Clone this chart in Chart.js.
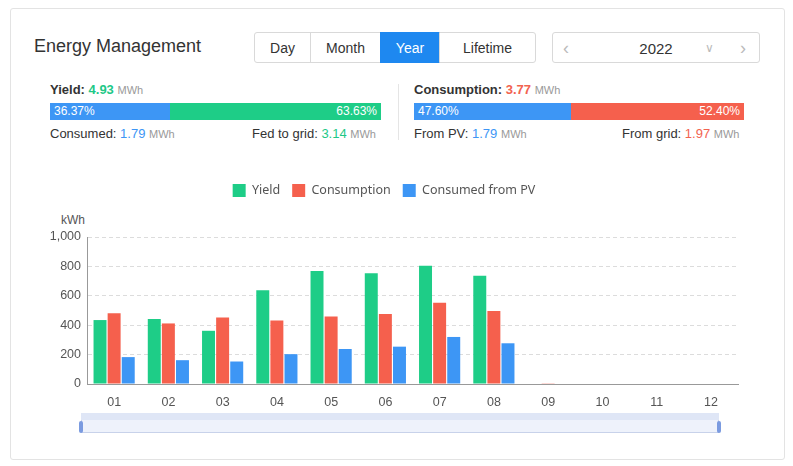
<!DOCTYPE html>
<html><head><meta charset="utf-8">
<script src="https://cdn.jsdelivr.net/npm/chart.js@4/dist/chart.umd.min.js"></script>
<style>
body{margin:0;background:#fff;font-family:"Liberation Sans","Noto Sans",Arial,sans-serif;color:#333;}
.card{position:absolute;left:10px;top:8px;width:773px;height:450px;border:1px solid #e3e3e3;border-radius:3px;}
.abs{position:absolute;white-space:nowrap;}
.title{left:34px;top:36px;font-size:18px;color:#333;}
.seg{position:absolute;top:32px;height:31px;border:1px solid #d9d9d9;font-size:14px;line-height:31px;text-align:center;color:#333;box-sizing:border-box;}
.bar{position:absolute;height:17px;font-size:12px;line-height:17px;color:#fff;}
.lbl{font-size:13px;color:#333;}
.u{font-size:11px;color:#999;}
</style></head><body>
<div class="card"></div>
<div class="abs title">Energy Management</div>
<div class="seg" style="left:254px;width:57px;border-radius:3px 0 0 3px">Day</div>
<div class="seg" style="left:310px;width:71px">Month</div>
<div class="seg" style="left:380px;width:60px;background:#1e88f0;color:#fff;border-color:#1e88f0">Year</div>
<div class="seg" style="left:439px;width:97px;border-radius:0 3px 3px 0">Lifetime</div>
<div class="seg" style="left:552px;width:208px;border-radius:3px;font-size:15px">2022
<span class="abs" style="left:10px;top:0;color:#bbb;font-size:18px">&#8249;</span><span class="abs" style="left:152px;top:0;color:#bbb;font-size:12px">&#8744;</span><span class="abs" style="left:187px;top:0;color:#bbb;font-size:18px">&#8250;</span></div>

<div class="abs lbl" style="left:50px;top:82px"><b>Yield:</b> <b style="color:#1ec887">4.93</b> <span class="u">MWh</span></div>
<div class="bar" style="left:50px;top:103px;width:120px;background:#3d96f5;padding-left:4px;box-sizing:border-box">36.37%</div>
<div class="bar" style="left:170px;top:103px;width:211px;background:#1ecd87;text-align:right;padding-right:4px;box-sizing:border-box">63.63%</div>
<div class="abs lbl" style="left:50px;top:126px">Consumed: <span style="color:#3d96f5">1.79</span> <span class="u">MWh</span></div>
<div class="abs lbl" style="left:252px;top:126px">Fed to grid: <span style="color:#1ec887">3.14</span> <span class="u">MWh</span></div>
<div class="abs" style="left:398px;top:84px;width:1px;height:56px;background:#e5e5e5"></div>
<div class="abs lbl" style="left:414px;top:82px"><b>Consumption:</b> <b style="color:#f26350">3.77</b> <span class="u">MWh</span></div>
<div class="bar" style="left:414px;top:103px;width:157px;background:#3d96f5;padding-left:4px;box-sizing:border-box">47.60%</div>
<div class="bar" style="left:571px;top:103px;width:173px;background:#f5604d;text-align:right;padding-right:4px;box-sizing:border-box">52.40%</div>
<div class="abs lbl" style="left:414px;top:126px">From PV: <span style="color:#3d96f5">1.79</span> <span class="u">MWh</span></div>
<div class="abs lbl" style="left:622px;top:126px">From grid: <span style="color:#f26350">1.97</span> <span class="u">MWh</span></div>

<div class="abs" style="left:61px;top:213px;font-size:12px;color:#555">kWh</div>
<div class="abs" style="left:30px;top:172px;width:710px;height:241px"><canvas id="c"></canvas></div>
<div class="abs" style="left:81px;top:413px;width:638px;height:20px;background:#eef2fb;border:1px solid #c8d2ea;box-sizing:border-box"></div>
<div class="abs" style="left:81px;top:413px;width:638px;height:7px;background:#dfe6f6"></div>
<div class="abs" style="left:79px;top:421px;width:4px;height:12px;background:#7b9be0;border-radius:2px"></div>
<div class="abs" style="left:717px;top:421px;width:4px;height:12px;background:#7b9be0;border-radius:2px"></div>
<script>
const categories=["01","02","03","04","05","06","07","08","09","10","11","12"];
const yieldVals=[435,442,362,637,768,753,805,737,0,0,0,0];
const consumptionVals=[482,412,452,432,460,477,553,497,5,0,0,0];
const pvVals=[183,162,153,203,238,254,320,277,0,0,0,0];
const yTicks=[0,200,400,600,800,1000];
new Chart(document.getElementById('c'),{type:'bar',
data:{labels:categories,datasets:[
{label:'Yield',data:yieldVals,backgroundColor:'#1ecd87'},
{label:'Consumption',data:consumptionVals,backgroundColor:'#f5604d'},
{label:'Consumed from PV',data:pvVals,backgroundColor:'#3d96f5'}]},
options:{responsive:true,maintainAspectRatio:false,animation:false,
datasets:{bar:{categoryPercentage:0.78,barPercentage:0.92}},
layout:{padding:{right:2}},
plugins:{legend:{position:'top',labels:{boxWidth:13,boxHeight:13,font:{size:12.5,family:'Noto Sans'},color:'#555',padding:12}},tooltip:{enabled:false}},
scales:{
x:{grid:{display:false},border:{color:'#999'},ticks:{color:'#555',font:{size:12.5}}},
y:{min:0,max:1000,afterFit(s){s.width=57;},afterBuildTicks(s){s.ticks=yTicks.map(v=>({value:v}));},
ticks:{color:'#555',font:{size:12.5},padding:6,callback:v=>v.toLocaleString('en-US')},
grid:{color:'#dcdcdc',drawTicks:false},border:{display:true,color:'#999',dash:[4,3]},
}}},
plugins:[{id:'legendGap',beforeInit(ch){const f=ch.legend.fit;ch.legend.fit=function(){f.call(this);this.height+=30;};}}]
});
</script>
</body></html>
